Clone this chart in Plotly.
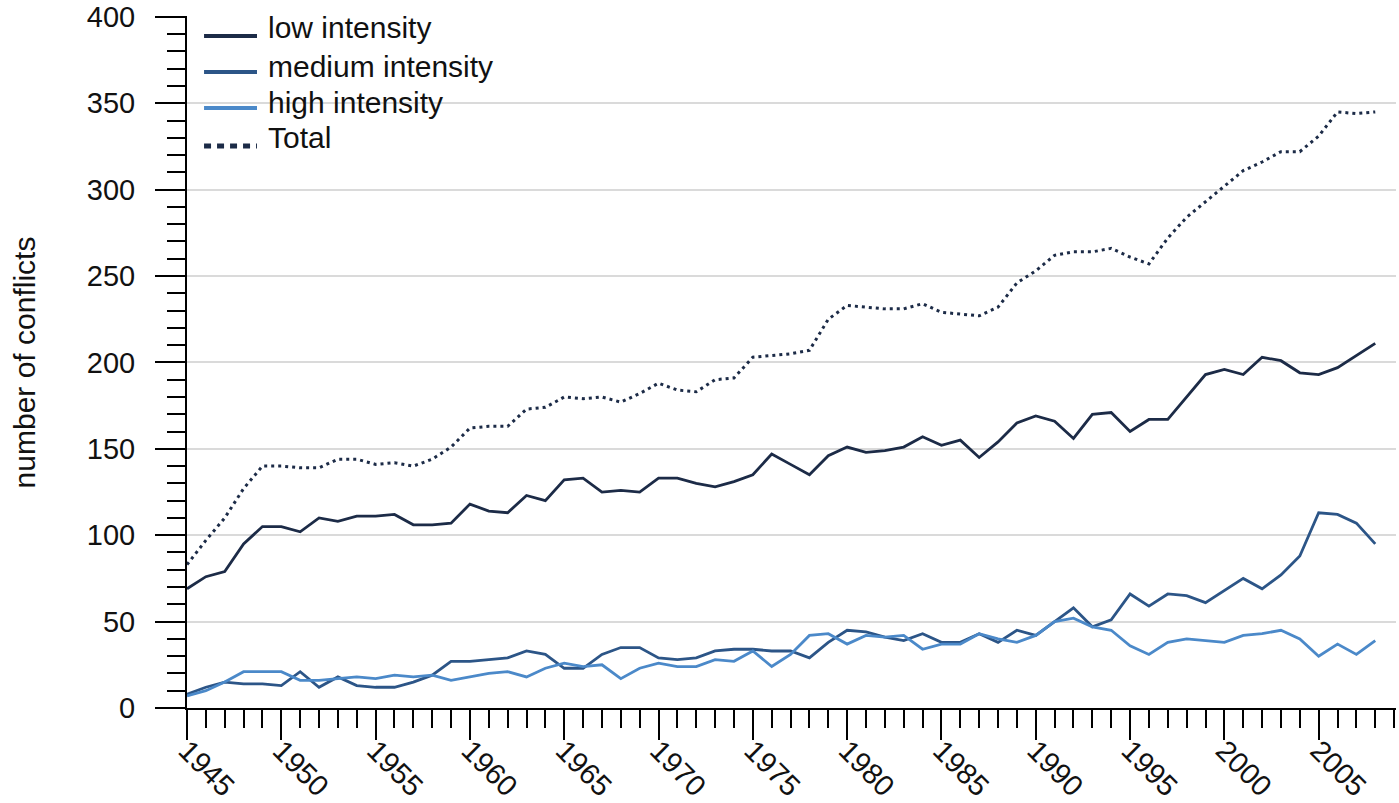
import plotly.graph_objects as go

# years 1945-2008
years = list(range(1945, 2009))

low_intensity = [69, 76, 79, 95, 105, 105, 102, 110, 108, 111, 111, 112, 106, 106, 107, 118,
                 114, 113, 123, 120, 132, 133, 125, 126, 125, 133, 133, 130, 128, 131, 135, 147,
                 141, 135, 146, 151, 148, 149, 151, 157, 152, 155, 145, 154, 165, 169, 166, 156,
                 170, 171, 160, 167, 167, 180, 193, 196, 193, 203, 201, 194, 193, 197, 204, 211]

medium_intensity = [8, 12, 15, 14, 14, 13, 21, 12, 18, 13, 12, 12, 15, 19, 27, 27,
                    28, 29, 33, 31, 23, 23, 31, 35, 35, 29, 28, 29, 33, 34, 34, 33,
                    33, 29, 38, 45, 44, 41, 39, 43, 38, 38, 43, 38, 45, 42, 50, 58,
                    47, 51, 66, 59, 66, 65, 61, 68, 75, 69, 77, 88, 113, 112, 107, 95]

high_intensity = [7, 10, 15, 21, 21, 21, 16, 16, 17, 18, 17, 19, 18, 19, 16, 18,
                  20, 21, 18, 23, 26, 24, 25, 17, 23, 26, 24, 24, 28, 27, 33, 24,
                  31, 42, 43, 37, 42, 41, 42, 34, 37, 37, 43, 40, 38, 42, 50, 52,
                  47, 45, 36, 31, 38, 40, 39, 38, 42, 43, 45, 40, 30, 37, 31, 39]

total = [83, 97, 110, 127, 140, 140, 139, 139, 144, 144, 141, 142, 140, 144, 151, 162,
         163, 163, 173, 174, 180, 179, 180, 177, 182, 188, 184, 183, 190, 191, 203, 204,
         205, 207, 225, 233, 232, 231, 231, 234, 229, 228, 227, 232, 246, 253, 262, 264,
         264, 266, 261, 257, 272, 284, 293, 302, 311, 316, 322, 322, 331, 345, 344, 345]

series_names = ["low intensity", "medium intensity", "high intensity", "Total"]
series_colors = ["#1c2b47", "#2c5587", "#4b89c9", "#1c2b47"]

x_tickvals = list(range(1945, 2006, 5))

fnt = "Liberation Sans, Arial, sans-serif"
fig = go.Figure()

for name, vals, col in zip(series_names, [low_intensity, medium_intensity, high_intensity, total], series_colors):
    if name == "Total":
        ln = dict(color=col, width=3, dash="3px,4px")
    else:
        ln = dict(color=col, width=2.8)
    fig.add_trace(go.Scatter(x=years, y=vals, mode="lines", name=name, line=ln, showlegend=False))

# legend drawn by hand (tighter rows and longer keys than the built-in one)
key_y = [0.9711, 0.9191, 0.8671, 0.8121]
text_y = [0.9827, 0.9277, 0.8757, 0.8237]
for name, col, ky, ty in zip(series_names, series_colors, key_y, text_y):
    if name == "Total":
        kl = dict(color=col, width=5, dash="7px,6px")
    else:
        kl = dict(color=col, width=4)
    fig.add_shape(type="line", xref="paper", yref="paper",
                  x0=0.0141, x1=0.0579, y0=ky, y1=ky, line=kl)
    fig.add_annotation(text=name, xref="paper", yref="paper", x=0.0655, y=ty,
                       xanchor="left", yanchor="middle", showarrow=False,
                       font=dict(size=30))

fig.update_layout(
    width=1399, height=803,
    margin=dict(l=187, r=3, t=16, b=95),
    paper_bgcolor="white", plot_bgcolor="white",
    font=dict(family=fnt, size=29, color="#111111"),
    showlegend=False,
)

fig.update_xaxes(
    range=[1945, 2009.1], automargin=False,
    tickvals=x_tickvals, tickangle=45,
    ticks="outside", ticklen=30, tickwidth=2, tickcolor="black",
    minor=dict(dtick=1, ticks="outside", ticklen=18, tickwidth=2, tickcolor="black", showgrid=False),
    showline=True, linecolor="black", linewidth=2,
    showgrid=False, zeroline=False, ticklabelstandoff=-18,
    ticklabeloverflow="allow",
    tickfont=dict(size=29),
)

fig.update_yaxes(
    range=[0, 400.5], dtick=50, automargin=False,
    ticks="outside", ticklen=30, tickwidth=2, tickcolor="black",
    minor=dict(dtick=10, ticks="outside", ticklen=18, tickwidth=2, tickcolor="black", showgrid=False),
    showline=True, linecolor="black", linewidth=2,
    showgrid=True, gridcolor="#dadada", gridwidth=2,
    zeroline=False, ticklabelstandoff=14, ticklabeloverflow="allow",
    tickfont=dict(size=29),
)

fig.add_annotation(text="number of conflicts", xref="paper", yref="paper",
                   x=-0.1345, y=0.5, xanchor="center", yanchor="middle",
                   textangle=-90, showarrow=False, font=dict(size=30))

# page body has a default 8px margin; drop it so the figure fills the window
fig.write_html("out.html", config={"displayModeBar": False},
               post_script="document.body.style.margin='0';")
